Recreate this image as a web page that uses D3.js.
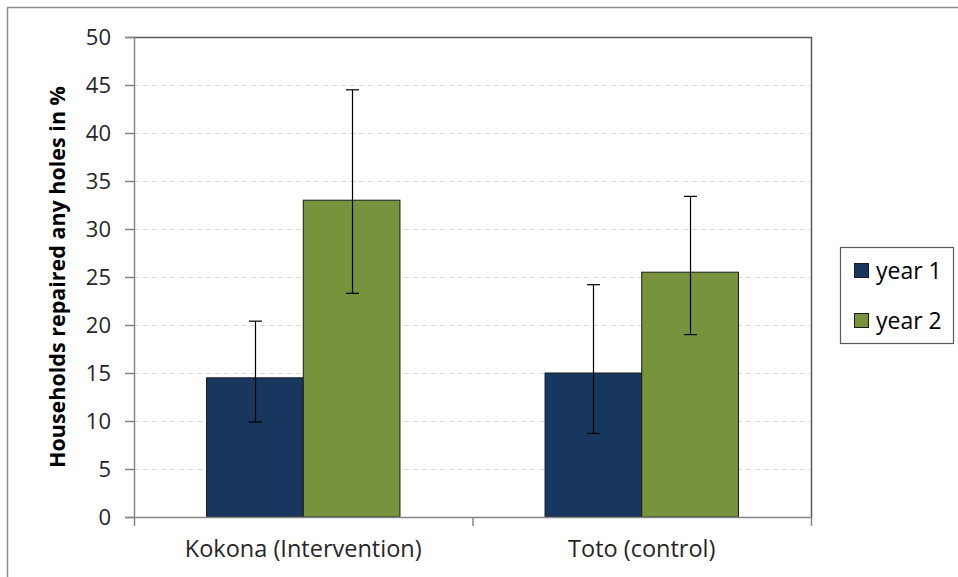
<!DOCTYPE html>
<html><head><meta charset="utf-8">
<script src="https://cdn.jsdelivr.net/npm/d3@7"></script>
<style>body{margin:0;background:#fff;}svg{display:block;font-family:"Open Sans",sans-serif;}</style>
</head><body><svg id="c" width="958" height="577"></svg>
<script>
const categories = ["Kokona (Intervention)", "Toto (control)"];
const seriesNames = ["year 1", "year 2"];
const year1 = [14.5, 15.0];
const year2 = [33.0, 25.5];
const year1Low = [9.9, 8.7];
const year1High = [20.4, 24.2];
const year2Low = [23.3, 19.0];
const year2High = [44.5, 33.4];
const yTicks = [0, 5, 10, 15, 20, 25, 30, 35, 40, 45, 50];
const colors = ["#17375E", "#77933C"];
const yTitle = "Households repaired any holes in %";

const FONT = "'Open Sans',sans-serif";
const svg = d3.select("#c");
svg.append("rect").attr("x",7.5).attr("y",7.5).attr("width",960).attr("height",580)
  .attr("fill","none").attr("stroke","#8c8c8c").attr("stroke-width",1.5);

const L=134, R=811, T=37, B=517;
const x0 = d3.scaleBand().domain(categories).range([L,R]);
const x1 = d3.scaleBand().domain(seriesNames).range([0,x0.bandwidth()]).paddingInner(0).paddingOuter(0.75);
const y = d3.scaleLinear().domain([0,50]).range([B,T]);

svg.append("g").selectAll("line").data(yTicks.filter(d=>d>0&&d<50)).join("line")
  .attr("x1",L).attr("x2",R).attr("y1",d=>y(d)+0.5).attr("y2",d=>y(d)+0.5)
  .attr("stroke","#d9d9d9").attr("stroke-dasharray","5,4").attr("stroke-width",1);

svg.append("path").attr("d",`M${L},${T+0.5}H${R+0.5}V${B}`).attr("fill","none").attr("stroke","#5a5a5a").attr("stroke-width",1.5);

const data = categories.map((c,i)=>[
  {cat:c, s:seriesNames[0], v:year1[i], lo:year1Low[i], hi:year1High[i]},
  {cat:c, s:seriesNames[1], v:year2[i], lo:year2Low[i], hi:year2High[i]}
]).flat();

svg.append("g").selectAll("rect").data(data).join("rect")
  .attr("x",d=>x0(d.cat)+x1(d.s)).attr("width",x1.bandwidth())
  .attr("y",d=>y(d.v)).attr("height",d=>y(0)-y(d.v))
  .attr("fill",d=>colors[seriesNames.indexOf(d.s)]).attr("stroke","#1a1a1a").attr("stroke-width",1);

const eb = svg.append("g").attr("stroke","#000").attr("stroke-width",1.2);
data.forEach(d=>{
  const cx = Math.round(x0(d.cat)+x1(d.s)+x1.bandwidth()/2)+0.5;
  eb.append("line").attr("x1",cx).attr("x2",cx).attr("y1",y(d.hi)).attr("y2",y(d.lo));
  eb.append("line").attr("x1",cx-6.5).attr("x2",cx+6.5).attr("y1",y(d.hi)).attr("y2",y(d.hi));
  eb.append("line").attr("x1",cx-6.5).attr("x2",cx+6.5).attr("y1",y(d.lo)).attr("y2",y(d.lo));
});

const ya = svg.append("g").attr("transform",`translate(${L},0)`)
  .call(d3.axisLeft(y).tickValues(yTicks).tickSize(9).tickPadding(14));
ya.select(".domain").attr("stroke","#868686").attr("stroke-width",1.5);
ya.selectAll(".tick line").attr("stroke","#868686").attr("stroke-width",1.5);
ya.selectAll("text").attr("font-size",22).attr("fill","#262626").attr("font-family",FONT);

const xa = svg.append("g").attr("transform",`translate(0,${B})`)
  .call(d3.axisBottom(x0).tickSize(0).tickPadding(23));
xa.select(".domain").attr("stroke","#868686").attr("stroke-width",1.5);
xa.selectAll("text").attr("font-size",23.5).attr("fill","#262626").attr("font-family",FONT);
svg.append("g").selectAll("line").data([L, x0(categories[1]), R]).join("line")
  .attr("x1",d=>d+0.5).attr("x2",d=>d+0.5).attr("y1",B).attr("y2",B+9)
  .attr("stroke","#868686").attr("stroke-width",1.5);

svg.append("text").attr("transform",`translate(65,277) rotate(-90)`)
  .attr("text-anchor","middle").attr("font-size",21.5).attr("font-weight","bold").attr("fill","#000")
  .attr("font-family",FONT).text(yTitle);

const lg = svg.append("g");
lg.append("rect").attr("x",840.5).attr("y",247.5).attr("width",113).attr("height",96)
  .attr("fill","#fff").attr("stroke","#5a5a5a").attr("stroke-width",1.2);
seriesNames.forEach((s,i)=>{
  const yy = 271 + i*50;
  lg.append("rect").attr("x",854.5).attr("y",yy-7.5).attr("width",14).attr("height",14)
    .attr("fill",colors[i]).attr("stroke","#1a1a1a").attr("stroke-width",1);
  lg.append("text").attr("x",876).attr("y",yy).attr("dy","0.35em").attr("font-size",23).attr("fill","#000")
    .attr("font-family",FONT).text(s);
});
</script></body></html>
